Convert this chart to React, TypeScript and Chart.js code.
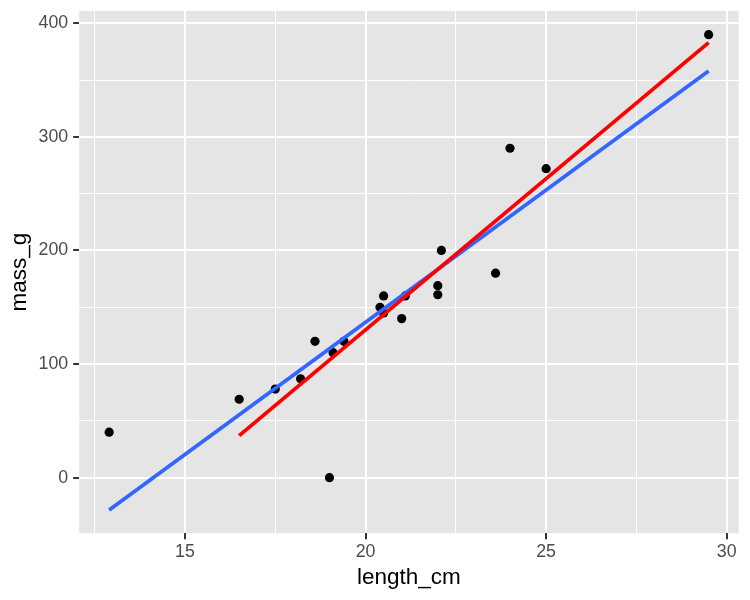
import { useEffect, useRef } from "react";
import { Chart, registerables } from "chart.js";

Chart.register(...registerables);

// fish measurements
const lengthCm = [12.9, 16.5, 17.5, 18.2, 18.6, 19.0, 19.1, 19.4, 20.4, 20.5, 20.5, 21.0, 21.1, 22.0, 22.0, 22.1, 23.6, 24.0, 25.0, 29.5];
const massG = [40, 69, 78, 87, 120, 0, 110, 120, 150, 160, 145, 140, 160, 161, 169, 200, 180, 290, 272, 390];

// fitted lines (start / end)
const blueFitX = [12.9, 29.5];
const blueFitY = [-28.4, 358];
const redFitX = [16.5, 29.5];
const redFitY = [37, 383];

// axis ticks (majors get labels, the rest are minor grid lines)
const xTicks = [12.5, 15, 17.5, 20, 22.5, 25, 27.5, 30];
const xMajor = [15, 20, 25, 30];
const yTicks = [0, 50, 100, 150, 200, 250, 300, 350, 400];
const yMajor = [0, 100, 200, 300, 400];

const FONT = "'Liberation Sans', Arial, Helvetica, sans-serif";

const toPoints = (xs: number[], ys: number[]) => xs.map((x, i) => ({ x, y: ys[i] }));

const panelBackground = {
  id: "panelBackground",
  beforeDraw(chart: Chart) {
    const { ctx, chartArea } = chart;
    ctx.save();
    ctx.fillStyle = "#E5E5E5";
    ctx.fillRect(chartArea.left, chartArea.top, chartArea.right - chartArea.left, chartArea.bottom - chartArea.top);
    ctx.restore();
  },
};

const App = () => {
  const canvasRef = useRef<HTMLCanvasElement | null>(null);

  useEffect(() => {
    document.body.style.margin = "0";
    if (!canvasRef.current) return;

    const chart = new Chart(canvasRef.current, {
      type: "scatter",
      data: {
        datasets: [
          {
            label: "lm (filtered)",
            data: toPoints(redFitX, redFitY),
            showLine: true,
            borderColor: "#FF0000",
            borderWidth: 3.8,
            borderCapStyle: "butt",
            pointRadius: 0,
            order: 0,
          },
          {
            label: "lm",
            data: toPoints(blueFitX, blueFitY),
            showLine: true,
            borderColor: "#3366FF",
            borderWidth: 3.8,
            borderCapStyle: "butt",
            pointRadius: 0,
            order: 1,
          },
          {
            label: "fish",
            data: toPoints(lengthCm, massG),
            backgroundColor: "#000000",
            borderWidth: 0,
            pointRadius: 4.6,
            order: 2,
          },
        ],
      },
      options: {
        responsive: true,
        maintainAspectRatio: false,
        animation: false,
        layout: { padding: { top: 10.9, right: 11.4, left: 0, bottom: 0 } },
        plugins: {
          legend: { display: false },
          tooltip: { enabled: false },
        },
        scales: {
          x: {
            type: "linear",
            min: 12.07,
            max: 30.33,
            afterBuildTicks: (scale: any) => {
              scale.ticks = xTicks.map((value) => ({ value }));
            },
            afterFit: (scale: any) => {
              scale.height = 66.8;
              scale.paddingLeft = 0;
              scale.paddingRight = 0;
            },
            border: { display: false },
            grid: {
              color: "#FFFFFF",
              lineWidth: (c: any) => (c.tick && xMajor.includes(c.tick.value) ? 2 : 1),
              tickColor: (c: any) => (c.tick && xMajor.includes(c.tick.value) ? "#333333" : "rgba(0,0,0,0)"),
              tickWidth: 2,
              tickLength: 6,
            },
            ticks: {
              padding: 2.6,
              color: "#4D4D4D",
              font: { family: FONT, size: 17.8 },
              maxRotation: 0,
              callback: (v: any) => (xMajor.includes(Number(v)) ? String(v) : ""),
            },
            title: {
              display: true,
              text: "length_cm",
              color: "#000000",
              font: { family: FONT, size: 22.5 },
              padding: { top: 0, bottom: 8.5 },
            },
          },
          y: {
            type: "linear",
            min: -48.9,
            max: 410.9,
            afterBuildTicks: (scale: any) => {
              scale.ticks = yTicks.map((value) => ({ value }));
            },
            afterFit: (scale: any) => {
              scale.width = 79.2;
              scale.paddingTop = 0;
              scale.paddingBottom = 0;
            },
            border: { display: false },
            grid: {
              color: "#FFFFFF",
              lineWidth: (c: any) => (c.tick && yMajor.includes(c.tick.value) ? 2 : 1),
              tickColor: (c: any) => (c.tick && yMajor.includes(c.tick.value) ? "#333333" : "rgba(0,0,0,0)"),
              tickWidth: 2,
              tickLength: 6,
            },
            ticks: {
              padding: 5,
              color: "#4D4D4D",
              font: { family: FONT, size: 17.8 },
              callback: (v: any) => (yMajor.includes(Number(v)) ? String(v) : ""),
            },
            title: {
              display: true,
              text: "mass_g",
              color: "#000000",
              font: { family: FONT, size: 22.5 },
              padding: { top: 6.5, bottom: 0 },
            },
          },
        },
      },
      plugins: [panelBackground],
    });

    return () => {
      chart.destroy();
    };
  }, []);

  return (
    <div style={{ width: 750, height: 600, position: "relative", background: "#FFFFFF" }}>
      <canvas ref={canvasRef} />
    </div>
  );
};

export default App;
